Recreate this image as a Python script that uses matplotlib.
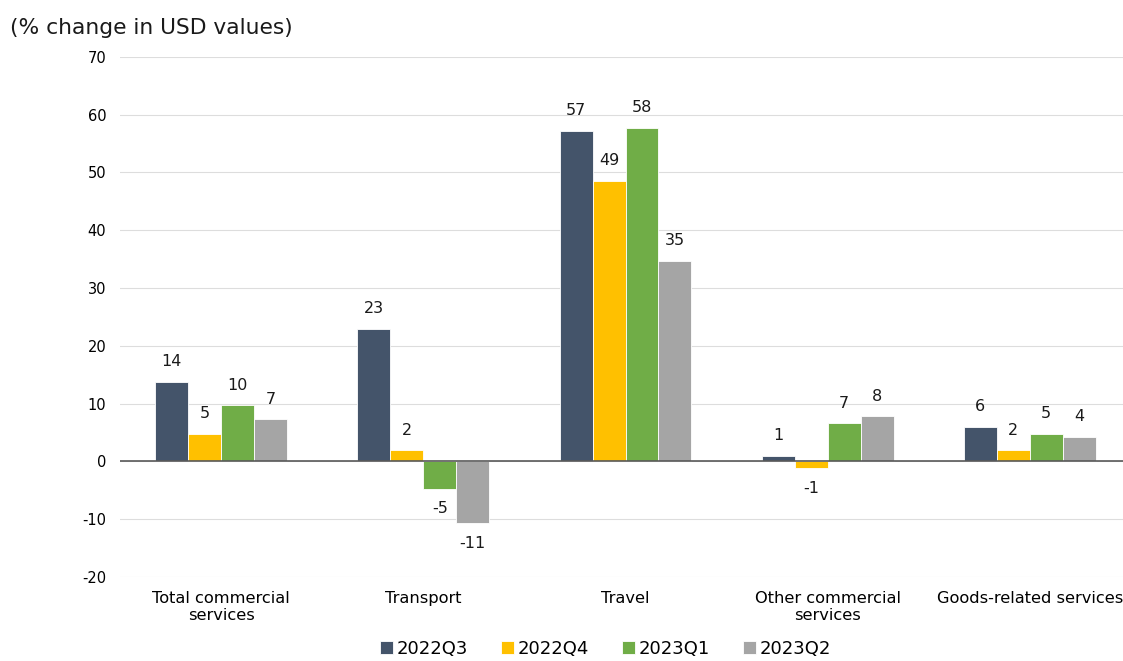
import numpy as np
import matplotlib.pyplot as plt

categories = ["Total commercial\nservices", "Transport", "Travel",
              "Other commercial\nservices", "Goods-related services"]
periods = ["2022Q3", "2022Q4", "2023Q1", "2023Q2"]

q3_2022 = [13.8, 23.0, 57.2, 1.0, 6.0]
q4_2022 = [4.8, 1.9, 48.6, -1.2, 1.9]
q1_2023 = [9.7, -4.7, 57.7, 6.6, 4.8]
q2_2023 = [7.3, -10.7, 34.7, 7.8, 4.3]

colors = ["#44546A", "#FFC000", "#70AD47", "#A5A5A5"]

plt.rcParams['font.family'] = ['DejaVu Sans']
plt.rcParams['axes.unicode_minus'] = False

fig = plt.figure(figsize=(11.23, 6.61), dpi=100)
ax = fig.add_axes([0.107, 0.127, 0.90, 0.787])

x = np.arange(len(categories))
width = 0.163
series = [q3_2022, q4_2022, q1_2023, q2_2023]
for i, (vals, label, c) in enumerate(zip(series, periods, colors)):
    pos = x + (i - 1.5) * width
    bars = ax.bar(pos, vals, width, color=c, label=label,
                  edgecolor="white", linewidth=0.6, zorder=3)
    # value labels above positive bars, below negative ones
    for b, v in zip(bars, vals):
        if v >= 0:
            ax.text(b.get_x() + b.get_width() / 2, v + 2.2, "%.0f" % v,
                    ha="center", va="bottom", fontsize=11.5, color="#1a1a1a")
        else:
            ax.text(b.get_x() + b.get_width() / 2, v - 2.2, "%.0f" % v,
                    ha="center", va="top", fontsize=11.5, color="#1a1a1a")

ax.set_ylim(-20, 70)
ax.set_yticks(range(-20, 71, 10))
ax.set_xlim(-0.5, len(categories) - 0.5)
ax.set_xticks(x)
ax.set_xticklabels(categories, fontsize=11.7)
ax.tick_params(axis="y", labelsize=10.5, length=0, pad=10)
ax.tick_params(axis="x", length=0, pad=10)
ax.grid(axis="y", color="#dddddd", linewidth=0.8, zorder=0)
ax.axhline(0, color="#595959", linewidth=1.2, zorder=4)
for s in ax.spines.values():
    s.set_visible(False)

fig.text(0.009, 0.948, "(% change in USD values)", fontsize=15.7, color="#1a1a1a")

ax.legend(loc="upper center", bbox_to_anchor=(0.48, -0.09), ncol=4,
          frameon=False, fontsize=13, handlelength=0.7, handleheight=0.7,
          handletextpad=0.2, columnspacing=1.85)

fig.savefig("out.png", dpi=100)
